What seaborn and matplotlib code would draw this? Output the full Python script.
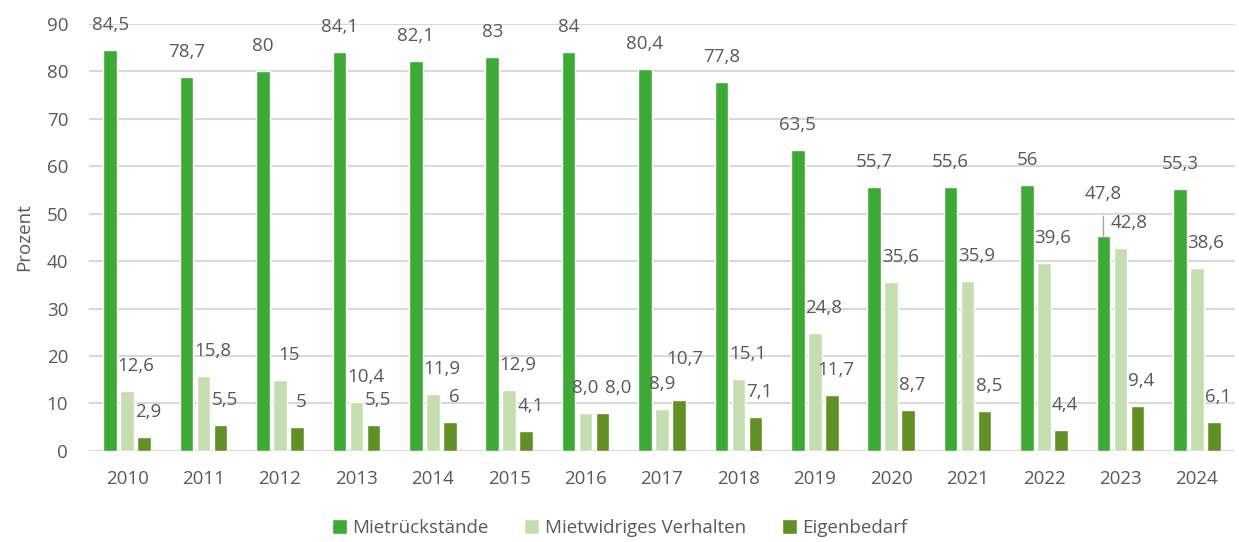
import seaborn as sns
from matplotlib import pyplot as plt
import pandas as pd

years = [str(y) for y in range(2010, 2025)]
series = ["Mietrückstände", "Mietwidriges Verhalten", "Eigenbedarf"]

miet = [84.5, 78.7, 80, 84.1, 82.1, 83, 84, 80.4, 77.8, 63.5, 55.7, 55.6, 56, 45.3, 55.3]
verhalten = [12.6, 15.8, 15, 10.4, 11.9, 12.9, 8.0, 8.9, 15.1, 24.8, 35.6, 35.9, 39.6, 42.8, 38.6]
eigen = [2.9, 5.5, 5, 5.5, 6, 4.1, 8.0, 10.7, 7.1, 11.7, 8.7, 8.5, 4.4, 9.4, 6.1]

miet_labels = ["84,5", "78,7", "80", "84,1", "82,1", "83", "84", "80,4", "77,8",
               "63,5", "55,7", "55,6", "56", "47,8", "55,3"]
verhalten_labels = ["12,6", "15,8", "15", "10,4", "11,9", "12,9", "8,0", "8,9", "15,1",
                    "24,8", "35,6", "35,9", "39,6", "42,8", "38,6"]
eigen_labels = ["2,9", "5,5", "5", "5,5", "6", "4,1", "8,0", "10,7", "7,1",
                "11,7", "8,7", "8,5", "4,4", "9,4", "6,1"]

colors = ["#3DAA36", "#C4DEB0", "#619024"]
text_color = "#595959"
fs = 13.5

df = pd.DataFrame({
    "Jahr": years * 3,
    "Grund": [s for s in series for _ in years],
    "Prozent": miet + verhalten + eigen,
})

sns.set_style("white")
plt.rcParams['font.family'] = ['Open Sans', 'DejaVu Sans']

fig = plt.figure(figsize=(12.39, 5.42), dpi=100)
ax = fig.add_axes([0.0718, 0.168, 0.925, 0.788])

sns.barplot(data=df, x="Jahr", y="Prozent", hue="Grund", palette=colors,
            saturation=1, width=0.667, gap=0.2, ax=ax, legend=True)

ax.set_ylim(0, 90)
ax.set_xlim(-0.5, 14.5)
ax.set_yticks(range(0, 91, 10))
ax.yaxis.grid(True, color="#D9D9D9", linewidth=1.5)
ax.set_axisbelow(True)
for s in ax.spines.values():
    s.set_visible(False)
ax.axhline(0, color="#D9D9D9", linewidth=1.5, zorder=0)
ax.tick_params(axis="both", length=0, labelsize=fs, labelcolor=text_color)
ax.tick_params(axis="y", pad=15)
ax.tick_params(axis="x", pad=14)
ax.set_xlabel("")
ax.set_ylabel("Prozent", fontsize=fs, color=text_color, labelpad=10)

# data labels: default offsets (points) per series, a few moved like in the original
all_labels = [miet_labels, verhalten_labels, eigen_labels]
x_shift = [0, 6.5, 3]
moved = {
    (1, "2016"): (0, 18),
    (2, "2016"): (11, 18),
    (1, "2017"): (0, 18),
    (2, "2017"): (4, 30),
}
for k, (cont, labels) in enumerate(zip(ax.containers, all_labels)):
    for i, (bar, lab) in enumerate(zip(cont, labels)):
        cx = bar.get_x() + bar.get_width() / 2
        top = bar.get_height()
        if k == 0 and years[i] == "2023":
            ax.annotate(lab, xy=(cx, top), xytext=(0, 30), textcoords="offset points",
                        ha="center", va="center", fontsize=fs, color=text_color,
                        annotation_clip=False,
                        arrowprops=dict(arrowstyle="-", color="#A6A6A6", lw=1,
                                        shrinkA=7, shrinkB=0))
            continue
        off = moved.get((k, years[i]), (x_shift[k], 18))
        ax.annotate(lab, xy=(cx, top), xytext=off, textcoords="offset points",
                    ha="center", va="center", fontsize=fs, color=text_color,
                    annotation_clip=False)

handles, lbls = ax.get_legend_handles_labels()
ax.legend(handles, lbls, loc="lower center", bbox_to_anchor=(0.5, -0.022),
          bbox_transform=fig.transFigure, ncol=3, frameon=False,
          handlelength=0.8, handleheight=0.8, handletextpad=0.3, columnspacing=1.9,
          fontsize=13.5, labelcolor=text_color)

fig.savefig("out.png", dpi=100)
